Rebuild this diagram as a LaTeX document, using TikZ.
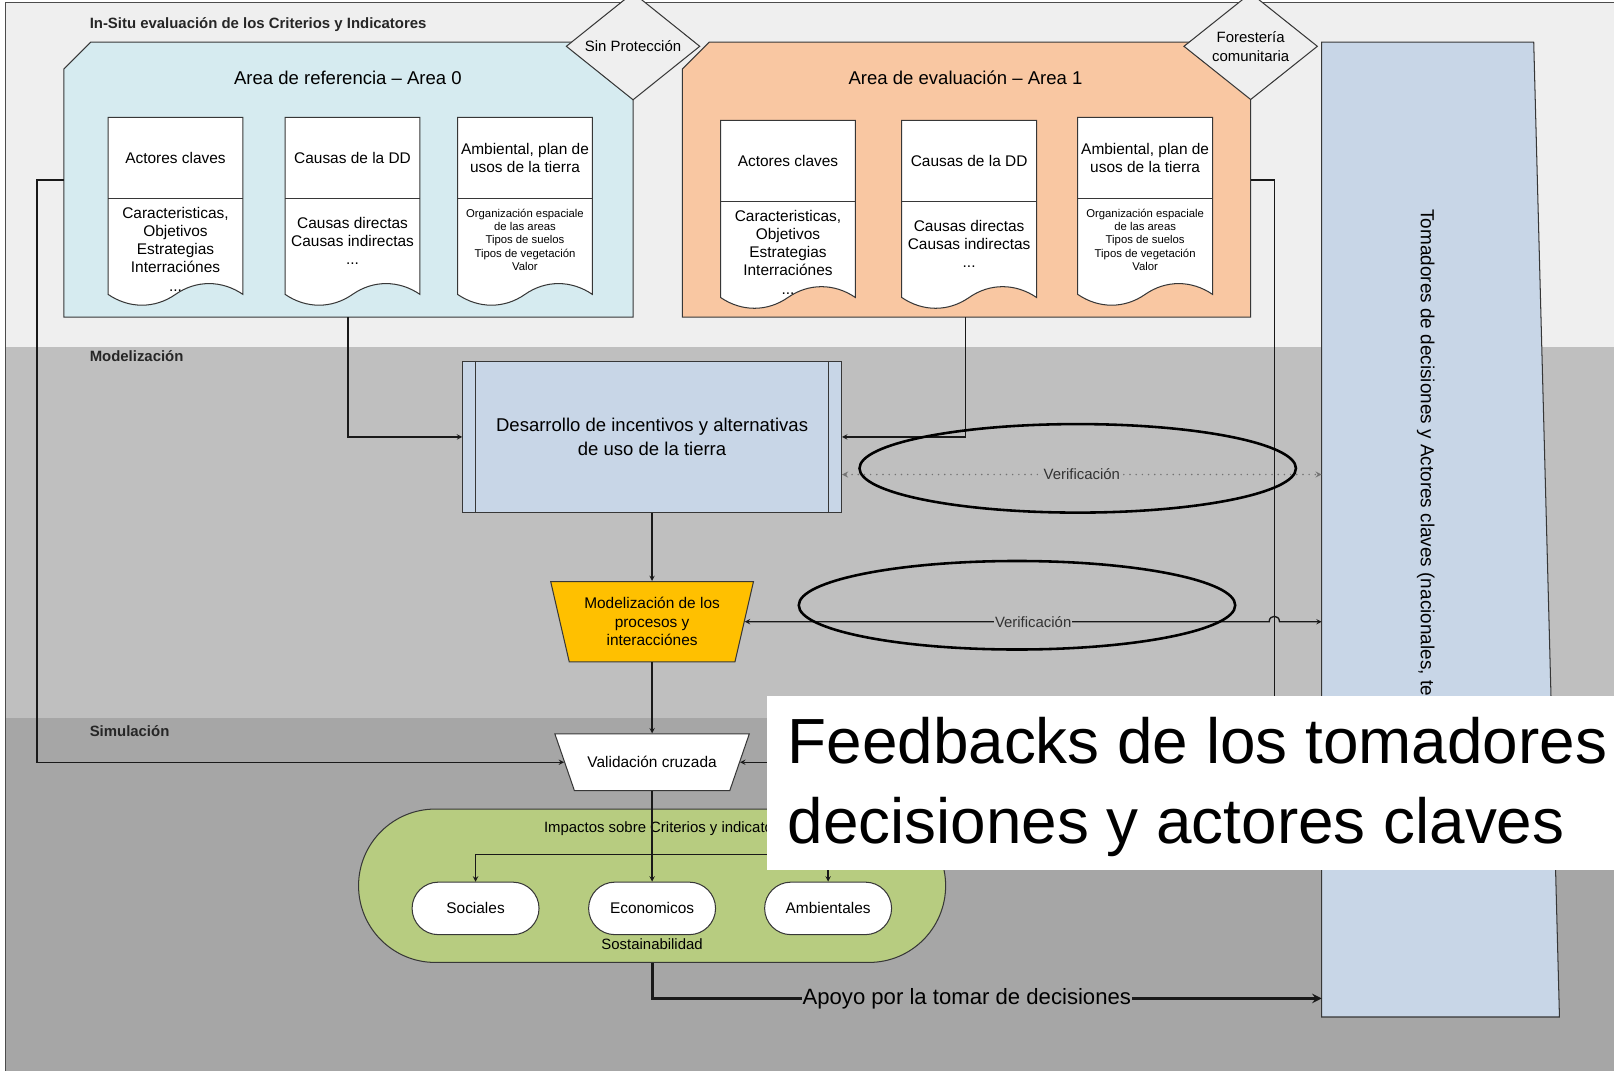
\documentclass[tikz,border=0pt]{standalone}
\usepackage{fontspec}
\setmainfont{Liberation Sans}
\usetikzlibrary{shapes.geometric,shapes.misc,positioning}
\definecolor{bandtop}{RGB}{239,239,239}
\definecolor{bandmod}{RGB}{191,191,191}
\definecolor{bandsim}{RGB}{166,166,166}
\definecolor{refcol}{RGB}{214,235,240}
\definecolor{evalcol}{RGB}{249,199,162}
\definecolor{bluebox}{RGB}{200,214,231}
\definecolor{modelcol}{RGB}{255,192,0}
\definecolor{greencol}{RGB}{183,204,128}
\definecolor{edgecol}{RGB}{55,55,55}
\newcommand{\fsz}[2]{\fontsize{#1}{#2}\selectfont}
\tikzset{
  shapeedge/.style={draw=edgecol, line width=1pt},
  bandlabel/.style={font=\bfseries\fsz{14.5}{17}, anchor=west, inner sep=0pt, text=black!85},
  decision/.style={diamond, shapeedge, fill=bandtop, minimum width=130pt, minimum height=79pt,
    inner sep=0pt, align=center, font=\fsz{14.5}{18}},
  procbox/.style={rectangle, shapeedge, fill=bluebox, minimum width=368pt, minimum height=147pt,
    align=center, font=\fsz{18}{23}},
  trap/.style={trapezium, shape border rotate=180, shapeedge, inner sep=0pt, font=\fsz{15}{18}},
  pill/.style={rounded rectangle, shapeedge, fill=white, minimum width=130pt, minimum height=51pt,
    font=\fsz{15}{18}},
  conn/.style={draw=black!90, line width=1.3pt, -stealth},
  verlabel/.style={fill=bandmod, inner sep=1pt, font=\fsz{14.5}{17}, text=black!80},
  ring/.style={draw=black, line width=2.5pt},
}
% documento con borde ondulado
\newcommand{\docbox}[7]{%
  \begin{scope}[shift={(#2,#3)}]
    \draw[shapeedge, fill=white] (-65.5,0) -- (65.5,0) -- (65.5,172)
      .. controls (45,158) and (20,158) .. (0,172)
      .. controls (-20,186) and (-45,186) .. (-65.5,172) -- cycle;
    \draw[shapeedge] (-65.5,79) -- (65.5,79);
    \node[align=center, font=\fsz{15}{18}] (#1h) at (0,39.5) {#4};
    \node[align=center, font=#6] (#1b) at (0,#7) {#5};
  \end{scope}}
\begin{document}
\begin{tikzpicture}[x=1pt,y=-1pt]
\useasboundingbox (0,0) rectangle (1568,1040);
% Fondo
\fill[white] (0,0) rectangle (1568,1040);
\fill[bandtop] (5,2) rectangle (1568,337);
\fill[bandmod] (5,337) rectangle (1568,698);
\fill[bandsim] (5,698) rectangle (1568,1040);
\draw[black!70, line width=1pt] (5,1040) -- (5,2) -- (1568,2);
\node[bandlabel] (insitu) at (87,24) {In-Situ evaluación de los Criterios y Indicatores};
\node[bandlabel] (modlab) at (87,346) {Modelización};
\node[bandlabel] (simlab) at (87,710) {Simulación};

% Areas
\draw[shapeedge, fill=refcol] (62,67) -- (88,41) -- (615,41) -- (615,308) -- (62,308) -- cycle;
\draw[shapeedge, fill=evalcol] (663,67) -- (689,41) -- (1215,41) -- (1215,308) -- (663,308) -- cycle;
\coordinate (area0s) at (338,308);
\coordinate (area0w) at (62,175);
\coordinate (area1s) at (938,308);
\coordinate (area1e) at (1215,175);
\node[font=\fsz{18}{22}] (area0t) at (338,76) {Area de referencia – Area 0};
\node[font=\fsz{18}{22}] (area1t) at (938,76) {Area de evaluación – Area 1};
\node[decision] (sinp) at (615,45) {Sin Protección};
\node[decision] (fores) at (1215,45) {Forestería\\comunitaria};

\docbox{ref1}{170.5}{114}{Actores claves}{Caracteristicas,\\Objetivos\\Estrategias\\Interraciónes\\...}{\fsz{15}{17.7}}{128}
\docbox{ref2}{342.5}{114}{Causas de la DD}{Causas directas\\Causas indirectas\\...}{\fsz{15}{17.5}}{120}
\docbox{ref3}{510}{114}{Ambiental, plan de\\usos de la tierra}{Organización espaciale\\de las areas\\Tipos de suelos\\Tipos de vegetación\\Valor}{\fsz{11}{13}}{119}
\docbox{eva1}{765.5}{117}{Actores claves}{Caracteristicas,\\Objetivos\\Estrategias\\Interraciónes\\...}{\fsz{15}{17.7}}{128}
\docbox{eva2}{941.5}{117}{Causas de la DD}{Causas directas\\Causas indirectas\\...}{\fsz{15}{17.5}}{120}
\docbox{eva3}{1112.5}{114}{Ambiental, plan de\\usos de la tierra}{Organización espaciale\\de las areas\\Tipos de suelos\\Tipos de vegetación\\Valor}{\fsz{11}{13}}{119}

% Tomadores de decisiones
\draw[shapeedge, fill=bluebox] (1284,41) -- (1490,41) -- (1515,988) -- (1284,988) -- cycle;
\node[rotate=-90, anchor=west, font=\fsz{18.4}{22}] (tomt) at (1385,200)
  {Tomadores de decisiones y Actores claves (nacionales, te};
\coordinate (tomA) at (1284,461);
\coordinate (tomB) at (1284,604);
\coordinate (tomC) at (1284,970);

% Modelizacion
\node[procbox] (desa) at (633.5,424.5) {Desarrollo de incentivos y alternativas\\de uso de la tierra};
\draw[shapeedge] ([xshift=13pt]desa.north west) -- ([xshift=13pt]desa.south west);
\draw[shapeedge] ([xshift=-13pt]desa.north east) -- ([xshift=-13pt]desa.south east);
\node[trap, fill=modelcol, trapezium angle=77] (modl) at (633.5,604)
  {\parbox[c][78pt][c]{161pt}{\centering Modelización de los\\procesos y\\interacciónes}};

% Simulacion
\node[trap, fill=white, trapezium angle=71] (val) at (633.5,740.5)
  {\parbox[c][55pt][c]{151pt}{\centering Validación cruzada}};
\node[rounded rectangle, shapeedge, fill=greencol, minimum width=577pt, minimum height=149pt]
  (sust) at (633.5,860.5) {};
\node[font=\fsz{14.5}{17}, anchor=west] (impl) at (525,805) {Impactos sobre Criterios y indicatores};
\node[font=\fsz{14.5}{17}] (sostl) at (633.5,917) {Sostainabilidad};
\node[pill] (soc) at (462,882.5) {Sociales};
\node[pill] (eco) at (633.5,882.5) {Economicos};
\node[pill] (amb) at (804.5,882.5) {Ambientales};
\coordinate (split) at (633.5,830);

% Conexiones
\draw[conn] (area0s) |- (desa.west);
\draw[conn] (area1s) |- (desa.east);
\draw[conn] (desa.south) -- (modl.north);
\draw[conn] (modl.south) -- (val.north);
\draw[conn] (area0w) -- ++(-26,0) |- (val.west);
\draw[conn] (area1e) -- ++(23,0) |- (val.east);
\draw[conn] (val.south) -- (eco.north);
\draw[conn] (split) -| (soc.north);
\draw[conn] (split) -| (amb.north);
\draw[conn, stealth-stealth, draw=black!55, line width=1.6pt, line cap=round, dash pattern=on 0pt off 6pt]
  (desa.east |- tomA) -- node[verlabel] {Verificación} (tomA);
\draw[conn, stealth-stealth] (tomB) -- (1243,604) .. controls (1243,597) and (1233,597) .. (1233,604)
  -- node[verlabel, pos=0.45] {Verificación} (modl.east);
\draw[conn, line width=3pt] (sust.south) |- node[pos=0.735, fill=bandsim, inner sep=1pt, font=\fsz{21.5}{25}]
  {Apoyo por la tomar de decisiones} (tomC);

% Elipses
\draw[ring] (1047,455) ellipse [x radius=212, y radius=43];
\draw[ring] (988,588) ellipse [x radius=212, y radius=43];

% Recuadro blanco
\node[fill=white, anchor=north west, minimum width=823pt, minimum height=169pt, inner sep=0pt]
  (fbbox) at (745,676) {};
\node[anchor=north west, align=left, inner sep=0pt, font=\fsz{62}{77}] (fbtext) at (765,697)
  {Feedbacks de los tomadores\\decisiones y actores claves};
\end{tikzpicture}
\end{document}
